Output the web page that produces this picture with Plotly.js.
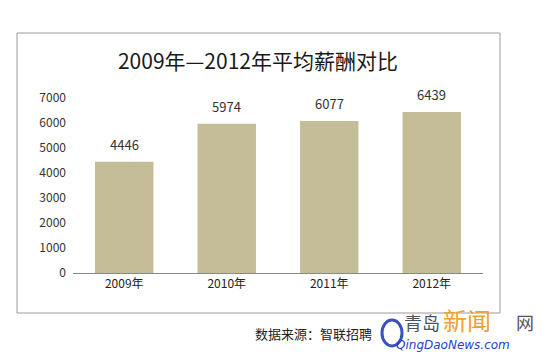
<!DOCTYPE html>
<html><head><meta charset="utf-8">
<script src="https://cdn.plot.ly/plotly-3.0.1.min.js"></script>
<style>html,body{margin:0;padding:0;background:#fff}</style>
</head><body>
<div id="chart" style="width:550px;height:357px"></div>
<script>
var categories = ["2009年", "2010年", "2011年", "2012年"];
var salaries = [4446, 5974, 6077, 6439];
var yTicks = [0, 1000, 2000, 3000, 4000, 5000, 6000, 7000];

var FONT = '"Noto Sans CJK SC", "Noto Sans", sans-serif';
var PW = 410, PH = 175, L = 73, T = 98;
function px(x){ return (x - L) / PW; }
function py(y){ return (T + PH - y) / PH; }

var trace = {
  type: 'bar', x: categories, y: salaries,
  marker: {color: '#C4BD97'},
  cliponaxis: false, hoverinfo: 'none'
};

var labelAnns = categories.map(function(c, i){
  return {x: c, y: salaries[i], xref: 'x', yref: 'y', text: String(salaries[i]), showarrow: false,
          yanchor: 'bottom', yshift: 6, font: {family: FONT, size: 13, color: '#333'}};
});

var layout = {
  width: 550, height: 357,
  margin: {l: L, r: 550 - L - PW, t: T, b: 357 - T - PH},
  paper_bgcolor: '#fff', plot_bgcolor: '#fff',
  showlegend: false, bargap: 0.43,
  font: {family: FONT, size: 12, color: '#333'},
  title: {text: '2009年—2012年平均薪酬对比', x: 0.469, xanchor: 'center', y: 0.826, yanchor: 'middle',
          font: {family: FONT, size: 21, color: '#1a1a1a'}},
  xaxis: {type: 'category', showgrid: false, zeroline: false, showline: true, linecolor: '#888', linewidth: 1,
          ticks: '', tickfont: {family: FONT, size: 12, color: '#222'}},
  yaxis: {range: [0, 7000], tickvals: yTicks, showgrid: false, zeroline: false, showline: false,
          ticks: '', ticklabelstandoff: 6, tickfont: {family: FONT, size: 12, color: '#333'}},
  shapes: [{type: 'rect', xref: 'paper', yref: 'paper', x0: px(17), x1: px(500), y0: py(313), y1: py(33),
            line: {color: '#9a9a9a', width: 1}, fillcolor: 'rgba(0,0,0,0)'},
           {type: 'circle', xref: 'paper', yref: 'paper', x0: px(382), x1: px(402), y0: py(346), y1: py(320),
            line: {color: '#3a4fc0', width: 3}, fillcolor: 'rgba(0,0,0,0)'}],
  annotations: labelAnns.concat([
    {text: '数据来源：智联招聘', xref: 'paper', yref: 'paper', x: px(253), y: py(333), xanchor: 'left', yanchor: 'middle',
     showarrow: false, font: {family: FONT, size: 13, color: '#222'}},
    {text: '青岛', xref: 'paper', yref: 'paper', x: px(402), y: py(322), xanchor: 'left', yanchor: 'middle',
     showarrow: false, font: {family: FONT, size: 18, color: '#4a5560'}},
    {text: '新闻', xref: 'paper', yref: 'paper', x: px(441), y: py(319), xanchor: 'left', yanchor: 'middle',
     showarrow: false, font: {family: FONT, size: 24, color: '#f0a030'}},
    {text: '网', xref: 'paper', yref: 'paper', x: px(514), y: py(322), xanchor: 'left', yanchor: 'middle',
     showarrow: false, font: {family: FONT, size: 18, color: '#555'}},
    {text: '<i>QingDaoNews.com</i>', xref: 'paper', yref: 'paper', x: px(394), y: py(345), xanchor: 'left', yanchor: 'middle',
     showarrow: false, font: {family: '"DejaVu Sans", sans-serif', size: 12, color: '#2a3fd0'}}
  ])
};

Plotly.newPlot('chart', [trace], layout, {displayModeBar: false, staticPlot: true});
</script>
</body></html>
